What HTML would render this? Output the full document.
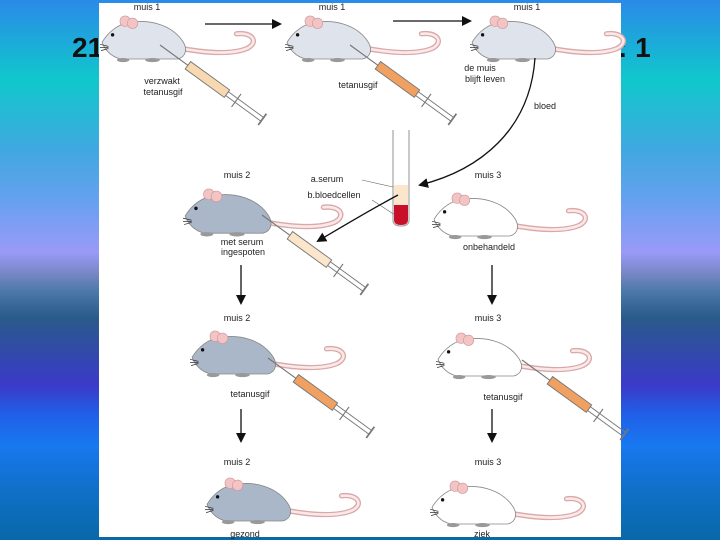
<!DOCTYPE html>
<html><head><meta charset="utf-8"><style>
html,body{margin:0;padding:0;width:720px;height:540px;overflow:hidden}
body{background:linear-gradient(180deg,#2a8ae8 0px,#10c8cc 80px,#40a8e0 150px,#6aa0f0 205px,#9a9af8 252px,#7a88c8 272px,#4a78a8 292px,#2a5a8a 318px,#3a3ac8 385px,#2060e8 415px,#1878f0 445px,#1070c8 490px,#0868a8 540px);font-family:"Liberation Sans",sans-serif}
</style></head><body>
<svg width="720" height="540" viewBox="0 0 720 540" style="position:absolute;left:0;top:0">
<defs>
<marker id="ah" markerWidth="10" markerHeight="10" refX="8" refY="5" orient="auto" markerUnits="userSpaceOnUse"><path d="M0,0 L10,5 L0,10 z" fill="#111"/></marker>
<g id="mouse">
<path d="M78,30 C100,34 125,36 140,30 C152,24 145,14 130,16" fill="none" stroke="#d9a8a8" stroke-width="5" stroke-linecap="round"/>
<path d="M78,30 C100,34 125,36 140,30 C152,24 145,14 130,16" fill="none" stroke="#fbe8e8" stroke-width="2.5" stroke-linecap="round"/>
<path d="M2,24 C8,14 18,6 30,5 C48,2 68,8 78,22 C84,30 82,38 74,40 L20,40 C10,38 4,30 2,24 z" fill="var(--c)" stroke="#888" stroke-width="0.8"/>
<circle cx="24" cy="4" r="5" fill="#f4c4c4" stroke="#c99" stroke-width="0.6"/>
<circle cx="31" cy="6" r="5" fill="#f4c4c4" stroke="#c99" stroke-width="0.6"/>
<circle cx="12" cy="17" r="1.6" fill="#111"/>
<path d="M0,26 l8,2 M0,29 l8,0 M1,32 l7,-2" stroke="#333" stroke-width="0.7"/>
<ellipse cx="22" cy="41" rx="6" ry="2" fill="#999"/><ellipse cx="50" cy="41" rx="7" ry="2" fill="#999"/>
</g>
<g id="syr">
<line x1="0" y1="0" x2="30" y2="0" stroke="#777" stroke-width="1"/>
<rect x="30" y="-4" width="42" height="8" fill="var(--f)" stroke="#777" stroke-width="0.8"/>
<line x1="72" y1="-2" x2="110" y2="-2" stroke="#777" stroke-width="0.8"/>
<line x1="72" y1="2" x2="110" y2="2" stroke="#777" stroke-width="0.8"/>
<line x1="82" y1="-7" x2="82" y2="7" stroke="#777" stroke-width="1"/>
<line x1="110" y1="-6" x2="110" y2="6" stroke="#777" stroke-width="1.5"/>
</g>
</defs>
<text x="72" y="57" font-size="28" font-weight="bold" fill="#111">21</text>
<text x="618" y="57" font-size="28" font-weight="bold" fill="#111">: 1</text>
<rect x="99" y="3" width="522" height="534" fill="#fff"/>
<g font-size="9" fill="#222" text-anchor="middle">
<text x="147" y="10">muis 1</text><text x="332" y="10">muis 1</text><text x="527" y="10">muis 1</text>
<text x="237" y="178">muis 2</text><text x="488" y="178">muis 3</text>
<text x="237" y="321">muis 2</text><text x="488" y="321">muis 3</text>
<text x="237" y="465">muis 2</text><text x="488" y="465">muis 3</text>
<text x="162" y="84">verzwakt</text><text x="163" y="95">tetanusgif</text>
<text x="358" y="88">tetanusgif</text>
<text x="480" y="71">de muis</text><text x="485" y="82">blijft leven</text>
<text x="545" y="109">bloed</text>
<text x="327" y="182">a.serum</text><text x="334" y="198">b.bloedcellen</text>
<text x="242" y="245">met serum</text><text x="243" y="255">ingespoten</text>
<text x="489" y="250">onbehandeld</text>
<text x="250" y="397">tetanusgif</text><text x="503" y="400">tetanusgif</text>
<text x="245" y="537">gezond</text><text x="482" y="537">ziek</text>
</g>
<use href="#mouse" transform="translate(100,17) scale(1.05)" style="--c:#dfe3ec"/>
<use href="#mouse" transform="translate(285,17) scale(1.05)" style="--c:#dfe3ec"/>
<use href="#mouse" transform="translate(470,17) scale(1.05)" style="--c:#dfe3ec"/>
<use href="#syr" transform="translate(160,45) rotate(36) scale(1.15)" style="--f:#f8d8b0"/>
<use href="#syr" transform="translate(350,45) rotate(36) scale(1.15)" style="--f:#f0a060"/>
<line x1="205" y1="24" x2="280" y2="24" stroke="#111" stroke-width="1.3" marker-end="url(#ah)"/>
<line x1="393" y1="21" x2="470" y2="21" stroke="#111" stroke-width="1.3" marker-end="url(#ah)"/>
<path d="M535,58 C530,130 480,170 420,185" fill="none" stroke="#111" stroke-width="1.3" marker-end="url(#ah)"/>
<path d="M393,130 L393,220 Q393,226 401,226 Q409,226 409,220 L409,130" fill="none" stroke="#aaa" stroke-width="1.3"/>
<rect x="394" y="185" width="14" height="20" fill="#fbe6cc"/>
<path d="M394,205 L408,205 L408,220 Q408,225 401,225 Q394,225 394,220 z" fill="#c8102a"/>
<line x1="362" y1="180" x2="393" y2="187" stroke="#666" stroke-width="0.6"/>
<line x1="372" y1="200" x2="395" y2="215" stroke="#666" stroke-width="0.6"/>
<path d="M398,195 C370,210 345,225 318,241" fill="none" stroke="#111" stroke-width="1.3" marker-end="url(#ah)"/>
<use href="#mouse" transform="translate(183,190) scale(1.08)" style="--c:#aab7c8"/>
<use href="#mouse" transform="translate(432,194) scale(1.05)" style="--c:#ffffff"/>
<use href="#syr" transform="translate(262,215) rotate(36) scale(1.15)" style="--f:#fbe6cc"/>
<line x1="241" y1="265" x2="241" y2="303" stroke="#111" stroke-width="1.3" marker-end="url(#ah)"/>
<line x1="492" y1="265" x2="492" y2="303" stroke="#111" stroke-width="1.3" marker-end="url(#ah)"/>
<use href="#mouse" transform="translate(190,332) scale(1.05)" style="--c:#aab7c8"/>
<use href="#mouse" transform="translate(436,334) scale(1.05)" style="--c:#ffffff"/>
<use href="#syr" transform="translate(268,358) rotate(36) scale(1.15)" style="--f:#f0a060"/>
<use href="#syr" transform="translate(522,360) rotate(36) scale(1.15)" style="--f:#f0a060"/>
<line x1="241" y1="409" x2="241" y2="441" stroke="#111" stroke-width="1.3" marker-end="url(#ah)"/>
<line x1="492" y1="409" x2="492" y2="441" stroke="#111" stroke-width="1.3" marker-end="url(#ah)"/>
<use href="#mouse" transform="translate(205,479) scale(1.05)" style="--c:#aab7c8"/>
<use href="#mouse" transform="translate(430,482) scale(1.05)" style="--c:#ffffff"/>
</svg>
</body></html>
